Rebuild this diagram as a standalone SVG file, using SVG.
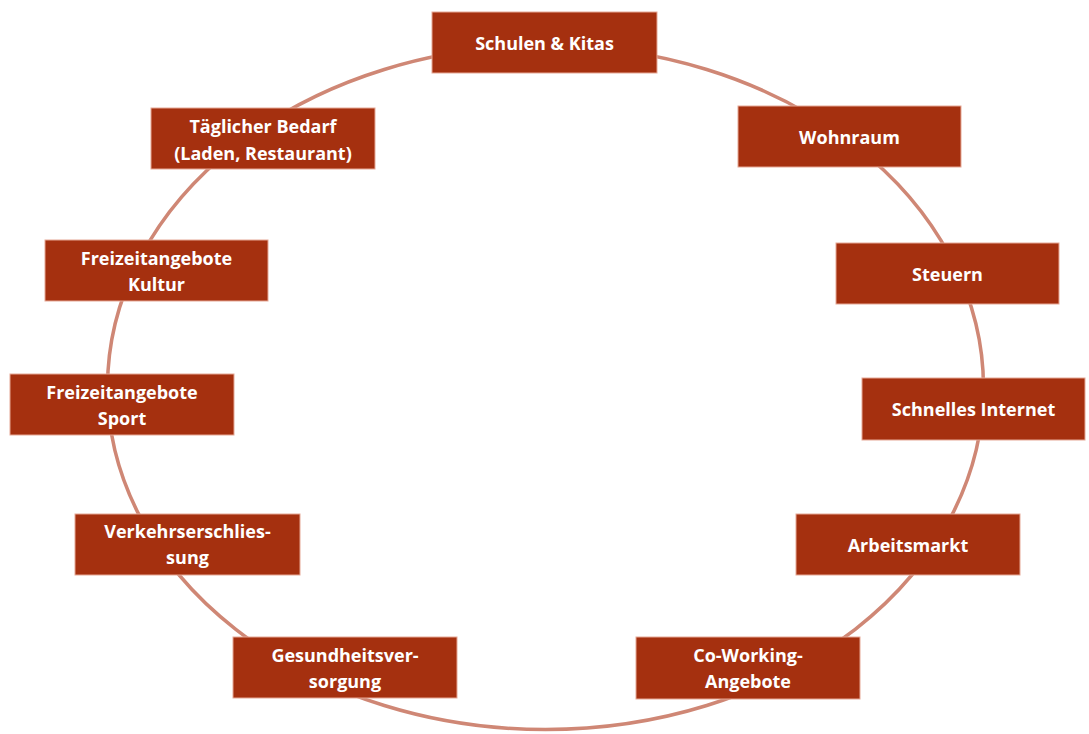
<svg xmlns="http://www.w3.org/2000/svg" width="1089" height="734" viewBox="0 0 1089 734">
  <style>
    .box { fill: #a5300f; stroke: #e6a896; stroke-width: 1; }
    .lbl { fill: #ffffff; font-family: "Open Sans", "Liberation Sans", sans-serif; font-weight: 700; font-size: 18px; text-anchor: middle; dominant-baseline: central; }
    .ring { fill: none; stroke: #cf8775; stroke-width: 3.5; }
  </style>
  <rect width="1089" height="734" fill="#ffffff"/>

  <!-- connecting ring behind the factor boxes -->
  <g id="connectors">
    <ellipse class="ring" cx="545.5" cy="387.5" rx="438" ry="342"/>
  </g>

  <g id="schulen">
    <rect class="box" x="432" y="12" width="225" height="61"/>
    <text class="lbl" x="544.5" y="42.5">Schulen &amp; Kitas</text>
  </g>
  <g id="wohnraum">
    <rect class="box" x="738" y="106" width="223" height="61"/>
    <text class="lbl" x="849.5" y="136.5">Wohnraum</text>
  </g>
  <g id="steuern">
    <rect class="box" x="836" y="243" width="223" height="61"/>
    <text class="lbl" x="947.5" y="273.5">Steuern</text>
  </g>
  <g id="internet">
    <rect class="box" x="862" y="378" width="223" height="62"/>
    <text class="lbl" x="973.5" y="409">Schnelles Internet</text>
  </g>
  <g id="arbeitsmarkt">
    <rect class="box" x="796" y="514" width="224" height="61"/>
    <text class="lbl" x="908" y="544.5">Arbeitsmarkt</text>
  </g>
  <g id="coworking">
    <rect class="box" x="636" y="637" width="224" height="62"/>
    <text class="lbl" x="748" y="655">Co-Working-</text>
    <text class="lbl" x="748" y="681">Angebote</text>
  </g>
  <g id="gesundheit">
    <rect class="box" x="233" y="637" width="224" height="61"/>
    <text class="lbl" x="345" y="655">Gesundheitsver-</text>
    <text class="lbl" x="345" y="681">sorgung</text>
  </g>
  <g id="verkehr">
    <rect class="box" x="75" y="514" width="225" height="61"/>
    <text class="lbl" x="187.5" y="531">Verkehrserschlies-</text>
    <text class="lbl" x="187.5" y="557">sung</text>
  </g>
  <g id="sport">
    <rect class="box" x="10" y="374" width="224" height="61"/>
    <text class="lbl" x="122" y="391.5">Freizeitangebote</text>
    <text class="lbl" x="122" y="417.5">Sport</text>
  </g>
  <g id="kultur">
    <rect class="box" x="45" y="240" width="223" height="61"/>
    <text class="lbl" x="156.5" y="257.5">Freizeitangebote</text>
    <text class="lbl" x="156.5" y="283.5">Kultur</text>
  </g>
  <g id="bedarf">
    <rect class="box" x="151" y="108" width="224" height="61"/>
    <text class="lbl" x="263" y="125.5">Täglicher Bedarf</text>
    <text class="lbl" x="263" y="152.5">(Laden, Restaurant)</text>
  </g>
</svg>
